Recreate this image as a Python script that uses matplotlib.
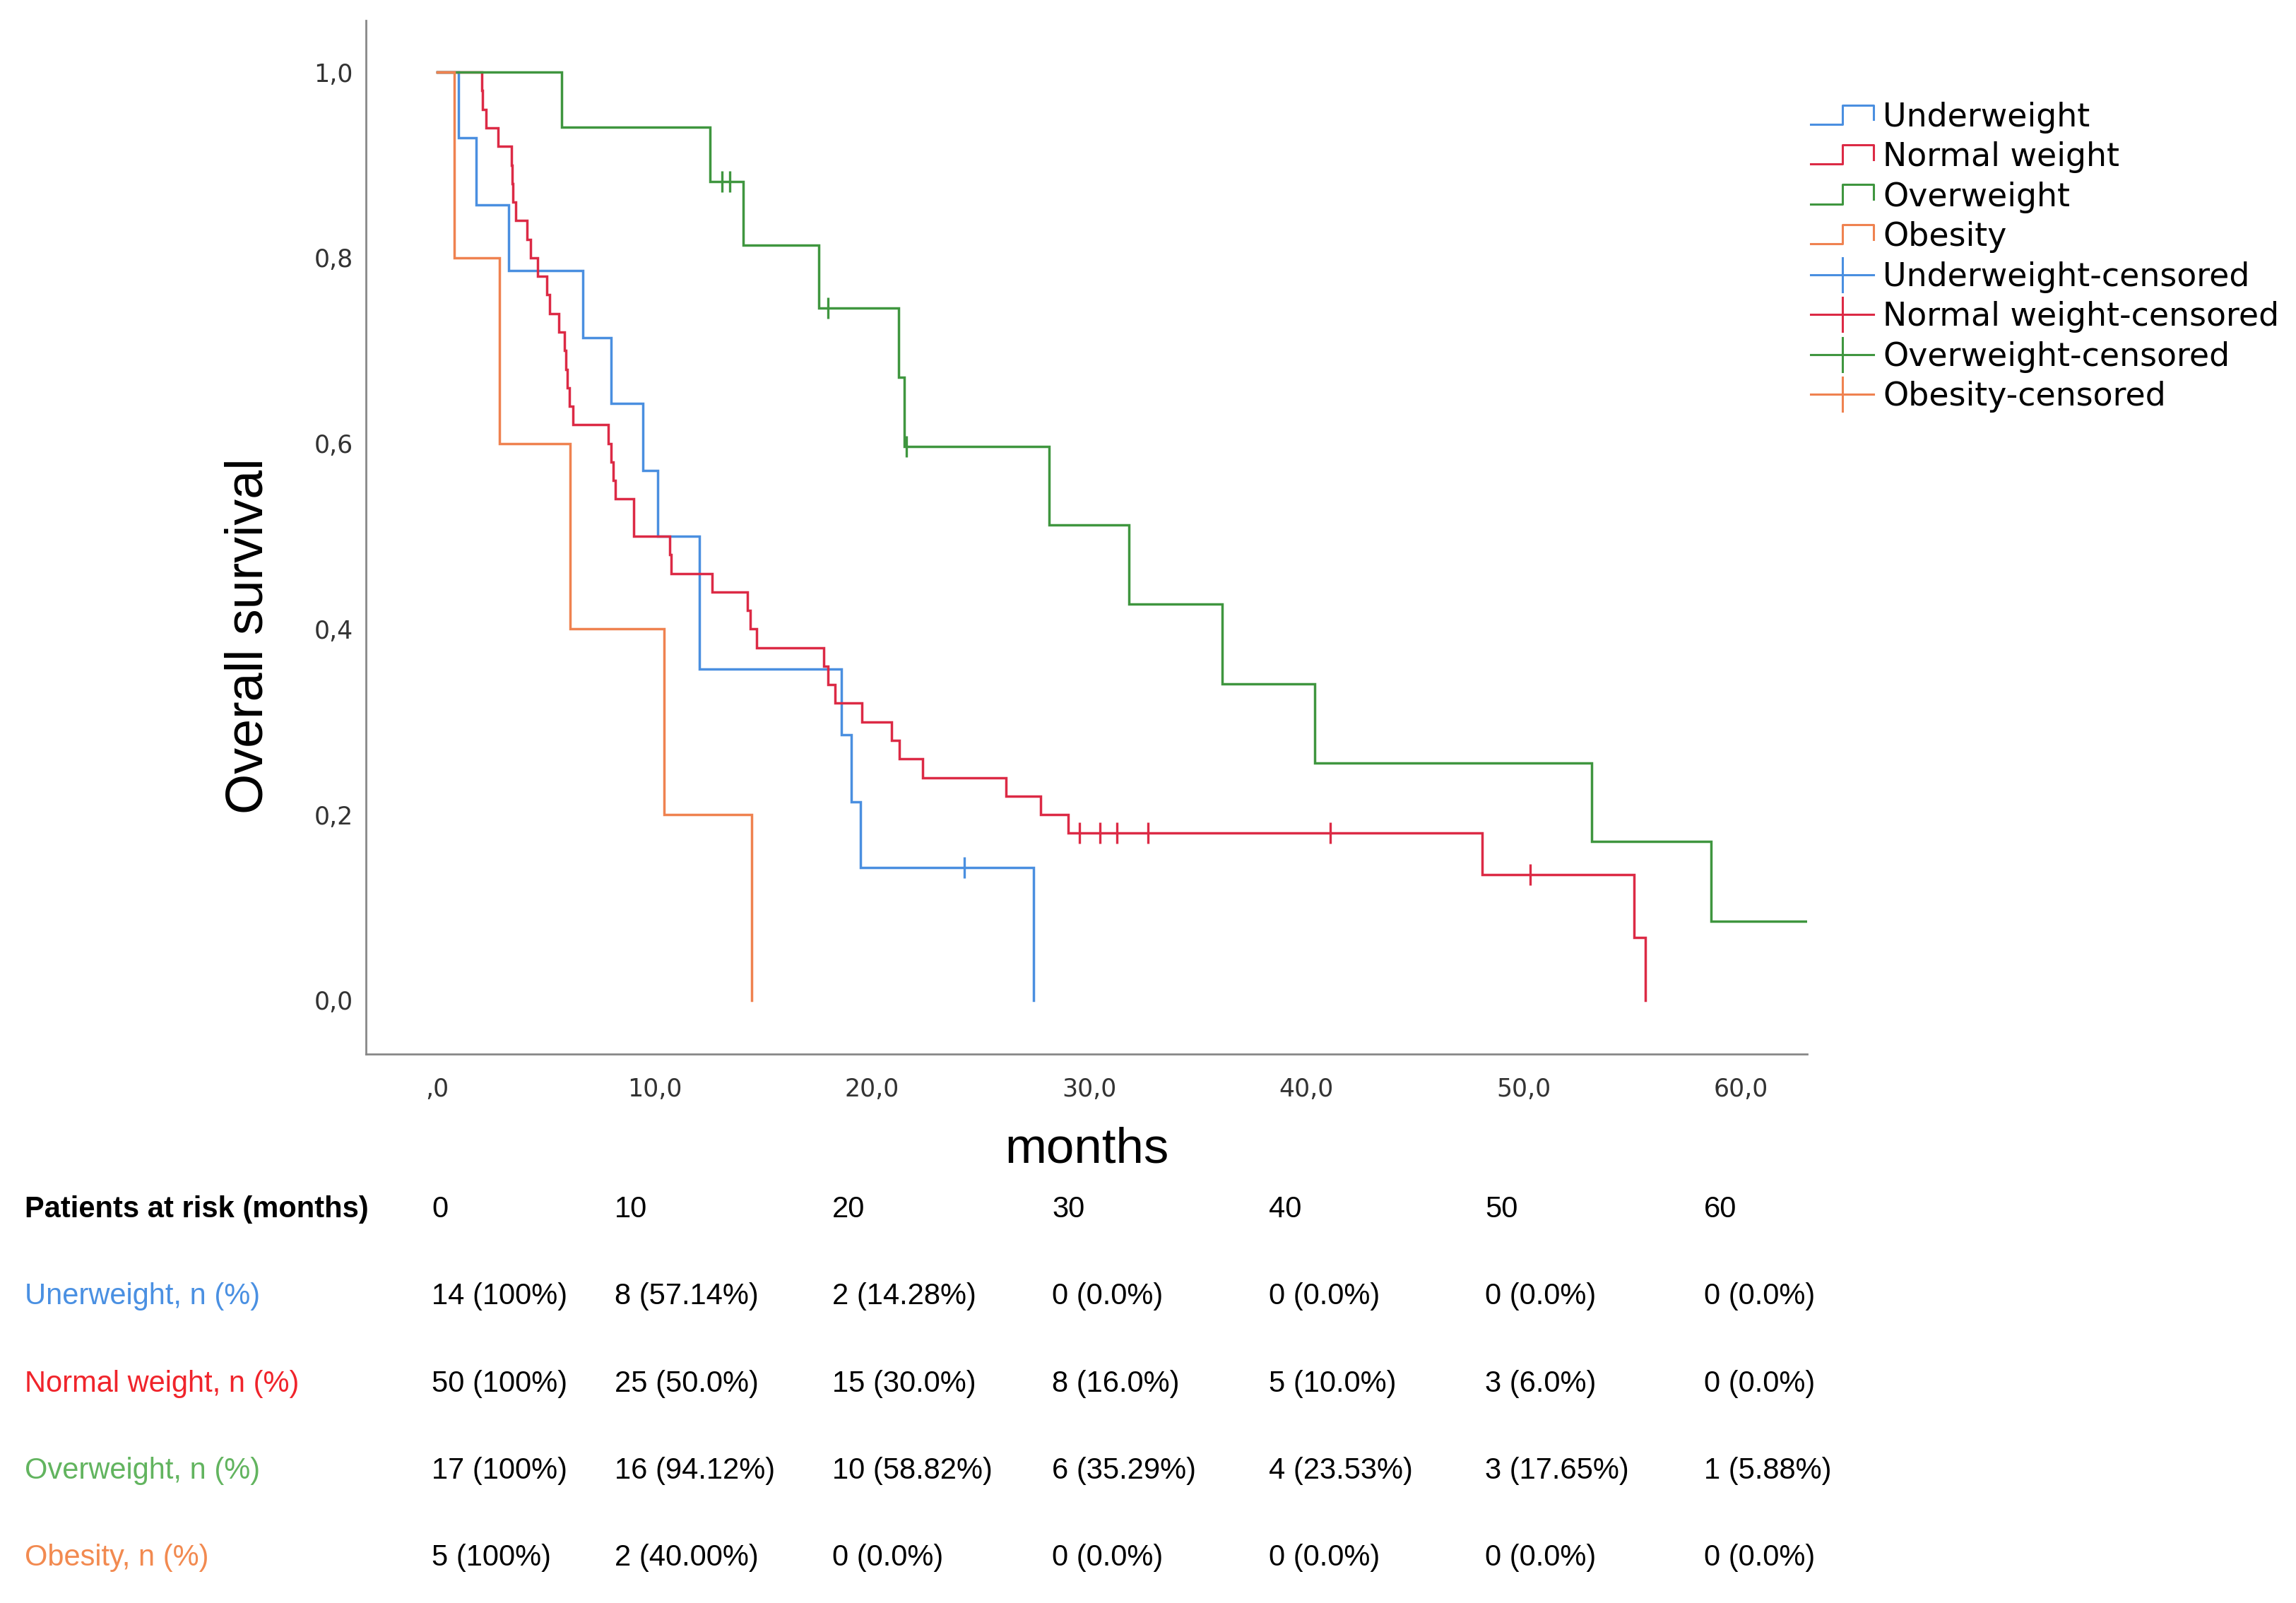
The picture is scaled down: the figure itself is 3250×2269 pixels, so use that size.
import numpy as np
import matplotlib
matplotlib.use("Agg")
import matplotlib.pyplot as plt
from matplotlib.lines import Line2D
from matplotlib.legend_handler import HandlerBase

# Kaplan-Meier steps (time in months, survival after the step)
under_t = [0, 0.99, 1.79, 3.28, 6.70, 8.00, 9.46, 10.16, 12.06, 18.61, 19.05, 19.49, 27.45]
under_s = [1.0, 0.929, 0.857, 0.786, 0.714, 0.643, 0.571, 0.500, 0.357, 0.286, 0.214, 0.143, 0.0]
under_cens = [24.26]

normal_t = [0, 2.04, 2.10, 2.25, 2.80, 3.41, 3.45, 3.48, 3.61, 4.12, 4.28, 4.61, 5.04, 5.16,
            5.59, 5.87, 5.93, 5.99, 6.08, 6.26, 7.87, 8.00, 8.10, 8.21, 9.05, 10.71, 10.75,
            12.66, 14.29, 14.40, 14.70, 17.80, 17.97, 18.30, 19.54, 20.92, 21.27, 22.35,
            26.17, 27.77, 29.05, 48.08, 55.08, 55.60]
normal_s = [1.0, 0.98, 0.96, 0.94, 0.92, 0.90, 0.88, 0.86, 0.84, 0.82, 0.80, 0.78, 0.76, 0.74,
            0.72, 0.70, 0.68, 0.66, 0.64, 0.62, 0.60, 0.58, 0.56, 0.54, 0.50, 0.48, 0.46,
            0.44, 0.42, 0.40, 0.38, 0.36, 0.34, 0.32, 0.30, 0.28, 0.26, 0.24,
            0.22, 0.20, 0.18, 0.135, 0.0675, 0.0]
normal_cens = [29.54, 30.51, 31.29, 32.70, 41.10, 50.30]

over_t = [0, 5.71, 12.55, 14.08, 17.57, 21.22, 21.49, 28.17, 31.82, 36.12, 40.39, 53.11, 58.63, 63.03]
over_s = [1.0, 0.941, 0.882, 0.814, 0.746, 0.671, 0.597, 0.512, 0.427, 0.341, 0.256, 0.171, 0.085, 0.085]
over_cens = [13.12, 13.46, 17.98, 21.60]

obese_t = [0, 0.79, 2.87, 6.12, 10.45, 14.48]
obese_s = [1.0, 0.8, 0.6, 0.4, 0.2, 0.0]
obese_cens = []

groups = ["Underweight", "Normal weight", "Overweight", "Obesity"]
line_colors = ["#4a8fe0", "#dc2a45", "#3f963f", "#ef8250"]
text_colors = ["#4a90e2", "#f0242b", "#62b45f", "#f28a50"]

# patients at risk table
risk_months = ["0", "10", "20", "30", "40", "50", "60"]
risk_labels = ["Unerweight, n (%)", "Normal weight, n (%)", "Overweight, n (%)", "Obesity, n (%)"]
under_risk = ["14 (100%)", "8 (57.14%)", "2 (14.28%)", "0 (0.0%)", "0 (0.0%)", "0 (0.0%)", "0 (0.0%)"]
normal_risk = ["50 (100%)", "25 (50.0%)", "15 (30.0%)", "8 (16.0%)", "5 (10.0%)", "3 (6.0%)", "0 (0.0%)"]
over_risk = ["17 (100%)", "16 (94.12%)", "10 (58.82%)", "6 (35.29%)", "4 (23.53%)", "3 (17.65%)", "1 (5.88%)"]
obese_risk = ["5 (100%)", "2 (40.00%)", "0 (0.0%)", "0 (0.0%)", "0 (0.0%)", "0 (0.0%)", "0 (0.0%)"]

xticks = [0, 10, 20, 30, 40, 50, 60]
xticklabels = [",0", "10,0", "20,0", "30,0", "40,0", "50,0", "60,0"]
yticks = [0.0, 0.2, 0.4, 0.6, 0.8, 1.0]
yticklabels = ["0,0", "0,2", "0,4", "0,6", "0,8", "1,0"]

W, H = 3250, 2269
fig = plt.figure(figsize=(W / 100, H / 100), dpi=100)
ax = fig.add_axes([518 / W, 1 - 1492 / H, (2558 - 518) / W, (1492 - 28.6) / H])

curves = [(under_t, under_s, under_cens), (normal_t, normal_s, normal_cens),
          (over_t, over_s, over_cens), (obese_t, obese_s, obese_cens)]
lw = 2.5
for (t, s, cens), col in zip(curves, line_colors):
    ax.step(t, s, where="post", color=col, lw=lw, solid_joinstyle="miter")
    if cens:
        idx = np.searchsorted(t, cens, side="right") - 1
        ax.plot(cens, np.array(s)[idx], ls="none", marker="|", ms=21, mew=2.4, color=col)

ax.set_xlim(-3.28, 63.04)
ax.set_ylim(-0.058, 1.056)
ax.set_xticks(xticks)
ax.set_xticklabels(xticklabels)
ax.set_yticks(yticks)
ax.set_yticklabels(yticklabels)
ax.tick_params(axis="x", length=0, pad=24, labelsize=25, labelcolor="#333333")
ax.tick_params(axis="y", length=0, pad=13, labelsize=25, labelcolor="#333333")
for sp in ["top", "right"]:
    ax.spines[sp].set_visible(False)
for sp in ["left", "bottom"]:
    ax.spines[sp].set_color("#888888")
    ax.spines[sp].set_linewidth(2)

ax.set_xlabel("months", fontsize=51, family="Liberation Sans")
ax.xaxis.label.set_va("baseline")
ax.xaxis.set_label_coords(0.5, ((1 - 1645 / H) - (1 - 1492 / H)) / ((1492 - 28.6) / H))
ax.set_ylabel("Overall survival", fontsize=53, family="Liberation Sans")
ax.yaxis.label.set_va("center")
ax.yaxis.set_label_coords((352 - 518) / (2558 - 518), ((1 - 900 / H) - (1 - 1492 / H)) / ((1492 - 28.6) / H))


class StepHandler(HandlerBase):
    def create_artists(self, legend, orig_handle, xdescent, ydescent, width, height, fontsize, trans):
        x0, y0 = -xdescent, -ydescent
        lo, hi = y0 + 0.1 * height, y0 + 0.95 * height
        xs = [x0, x0 + 0.5 * width, x0 + 0.5 * width, x0 + width, x0 + width]
        ys = [lo, lo, hi, hi, lo + 0.2 * height]
        ln = Line2D(xs, ys, color=orig_handle.get_color(), lw=orig_handle.get_linewidth(), transform=trans)
        return [ln]


class CensorHandler(HandlerBase):
    def create_artists(self, legend, orig_handle, xdescent, ydescent, width, height, fontsize, trans):
        x0, y0 = -xdescent, -ydescent
        c = orig_handle.get_color()
        lw_ = orig_handle.get_linewidth()
        h = Line2D([x0, x0 + width], [y0 + 0.5 * height] * 2, color=c, lw=lw_, transform=trans)
        v = Line2D([x0 + 0.5 * width] * 2, [y0 - 0.25 * height, y0 + 1.25 * height], color=c, lw=lw_, transform=trans)
        return [h, v]


handles, labels, hmap = [], [], {}
for g, col in zip(groups, line_colors):
    hd = Line2D([], [], color=col, lw=2.2)
    handles.append(hd)
    labels.append(g)
    hmap[hd] = StepHandler()
for g, col in zip(groups, line_colors):
    hd = Line2D([], [], color=col, lw=2.2)
    handles.append(hd)
    labels.append(g + "-censored")
    hmap[hd] = CensorHandler()

fig.legend(handles, labels, handler_map=hmap, loc="upper left",
           bbox_to_anchor=(2563 / W, 1 - 144 / H), bbox_transform=fig.transFigure,
           frameon=False, fontsize=33, borderpad=0, borderaxespad=0,
           labelspacing=0.25, handlelength=1.95, handletextpad=0.28, handleheight=0.7)

# patients at risk table
col_x = [611, 870, 1178, 1489, 1796, 2102, 2412]
row_y = [1723, 1846, 1970, 2093, 2216]
tfont = dict(fontsize=30, family="Liberation Sans", va="baseline", ha="left")
fig.text(35 / W, 1 - row_y[0] / H, "Patients at risk (months)", weight="bold", color="black", **tfont)
for x, m in zip(col_x, risk_months):
    fig.text(x / W, 1 - row_y[0] / H, m, color="black", **tfont)
for r, (lab, vals, tc) in enumerate(zip(risk_labels, [under_risk, normal_risk, over_risk, obese_risk], text_colors)):
    y = 1 - row_y[r + 1] / H
    fig.text(35 / W, y, lab, color=tc, **tfont)
    for x, v in zip(col_x, vals):
        fig.text(x / W, y, v, color="black", **tfont)

fig.savefig("out.png", dpi=100)
